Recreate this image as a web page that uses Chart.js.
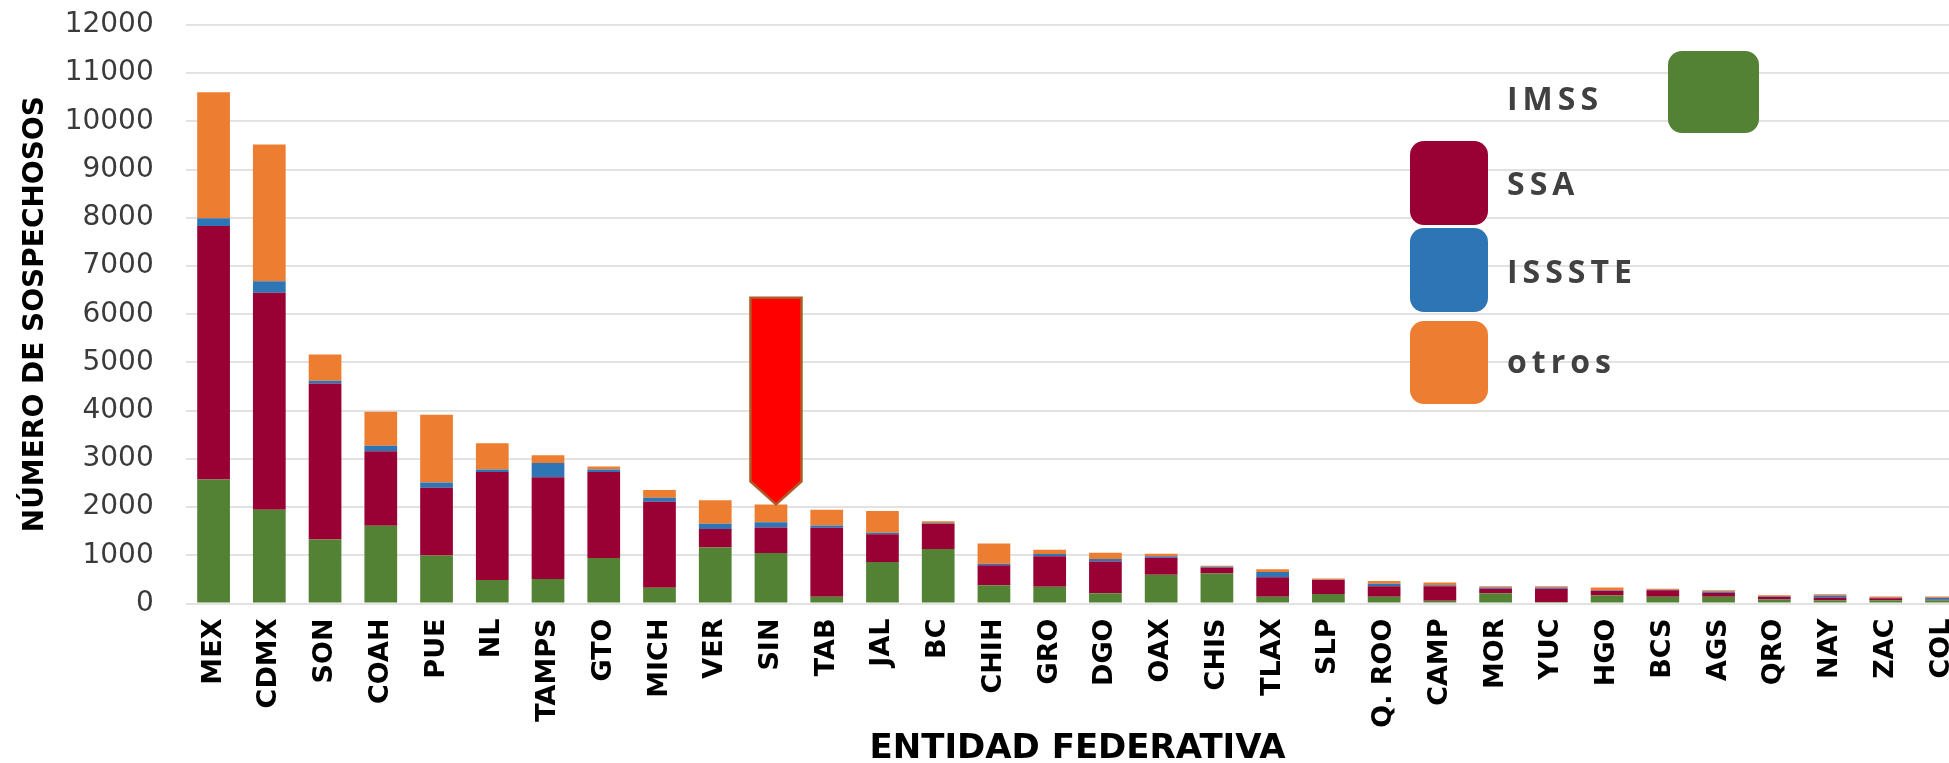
<!DOCTYPE html>
<html lang="es">
<head>
<meta charset="utf-8">
<title>Sospechosos por entidad federativa</title>
<script src="https://cdn.jsdelivr.net/npm/chart.js@4.4.0/dist/chart.umd.min.js"></script>
<style>
  html, body { margin: 0; padding: 0; background: #fff; }
  #wrap { width: 1949px; height: 763px; overflow: hidden; position: relative; }
  #chart { display: block; }
</style>
</head>
<body>
<div id="wrap">
  <canvas id="chart" width="2000" height="763"></canvas>
</div>
<script>
// Datos (casos sospechosos por institucion)
const estados = ['MEX', 'CDMX', 'SON', 'COAH', 'PUE', 'NL', 'TAMPS', 'GTO', 'MICH', 'VER', 'SIN', 'TAB',
  'JAL', 'BC', 'CHIH', 'GRO', 'DGO', 'OAX', 'CHIS', 'TLAX', 'SLP', 'Q. ROO', 'CAMP', 'MOR', 'YUC', 'HGO',
  'BCS', 'AGS', 'QRO', 'NAY', 'ZAC', 'COL'];

const imss = [2570, 1945, 1325, 1615, 995, 485, 510, 945, 325, 1160, 1050, 140,
  860, 1130, 380, 350, 215, 595, 620, 140, 195, 140, 55, 215, 30, 165,
  140, 140, 85, 70, 70, 65];
const ssa = [5260, 4500, 3240, 1545, 1405, 2245, 2110, 1785, 1785, 385, 525, 1430,
  575, 520, 415, 630, 655, 355, 120, 405, 290, 220, 305, 90, 275, 100,
  135, 85, 55, 55, 40, 15];
const issste = [160, 240, 55, 110, 110, 50, 295, 50, 85, 110, 110, 50,
  35, 15, 30, 45, 55, 30, 20, 110, 10, 50, 20, 25, 25, 10,
  10, 25, 10, 40, 10, 40];
const otros = [2615, 2835, 545, 705, 1405, 545, 160, 60, 160, 485, 370, 325,
  450, 40, 420, 90, 130, 50, 25, 55, 25, 55, 55, 30, 30, 55,
  20, 25, 20, 25, 25, 25];

const yTicks = [0, 1000, 2000, 3000, 4000, 5000, 6000, 7000, 8000, 9000, 10000, 11000, 12000];

// entidad resaltada con la flecha y hasta donde sube la flecha
const resaltado = 'SIN';
const flechaTope = 6340;

const colores = {
  imss: '#548235',
  ssa: '#990033',
  issste: '#2e75b6',
  otros: '#ed7d31'
};

// Plugin: flecha roja apuntando a la entidad resaltada
const flechaPlugin = {
  id: 'flecha',
  afterDatasetsDraw(chart) {
    const { ctx, scales: { x, y } } = chart;
    const i = estados.indexOf(resaltado);
    if (i < 0) return;
    const total = imss[i] + ssa[i] + issste[i] + otros[i];
    const cx = x.getPixelForValue(i) + 5;
    const tip = y.getPixelForValue(total);
    const top = y.getPixelForValue(flechaTope);
    const half = 25.5;
    const head = 23;
    ctx.save();
    ctx.beginPath();
    ctx.moveTo(cx - half, top);
    ctx.lineTo(cx + half, top);
    ctx.lineTo(cx + half, tip - head);
    ctx.lineTo(cx, tip);
    ctx.lineTo(cx - half, tip - head);
    ctx.closePath();
    ctx.fillStyle = '#ff0000';
    ctx.fill();
    ctx.lineWidth = 2.5;
    ctx.strokeStyle = '#b05a28';
    ctx.stroke();
    ctx.restore();
  }
};

// Plugin: leyenda con cuadros redondeados (como la original)
const leyendaPlugin = {
  id: 'leyendaCuadros',
  afterDraw(chart) {
    const { ctx } = chart;
    const items = [
      { box: [1668, 51, 91, 82], text: [1507, 110] },
      { box: [1410, 141, 78, 84], text: [1507, 195] },
      { box: [1410, 228, 78, 84], text: [1507, 283] },
      { box: [1410, 321, 78, 83], text: [1507, 373] }
    ];
    chart.data.datasets.forEach((ds, k) => {
      const it = items[k];
      if (!it) return;
      const [bx, by, bw, bh] = it.box;
      const r = 14;
      ctx.save();
      ctx.beginPath();
      ctx.moveTo(bx + r, by);
      ctx.arcTo(bx + bw, by, bx + bw, by + bh, r);
      ctx.arcTo(bx + bw, by + bh, bx, by + bh, r);
      ctx.arcTo(bx, by + bh, bx, by, r);
      ctx.arcTo(bx, by, bx + bw, by, r);
      ctx.closePath();
      ctx.fillStyle = ds.backgroundColor;
      ctx.fill();

      ctx.font = 'bold 32px "Open Sans", "DejaVu Sans", sans-serif';
      ctx.fillStyle = '#404040';
      ctx.textBaseline = 'alphabetic';
      ctx.textAlign = 'left';
      let tx = it.text[0];
      for (const ch of ds.label) {
        ctx.fillText(ch, tx, it.text[1]);
        tx += ctx.measureText(ch).width + 5;
      }
      ctx.restore();
    });
  }
};

document.addEventListener('DOMContentLoaded', () => {
  const canvas = document.getElementById('chart');
  if (!canvas) {
    console.error('chart canvas not found');
    return;
  }

  const barPct = 0.587;

  new Chart(canvas, {
    type: 'bar',
    data: {
      labels: estados,
      datasets: [
        { label: 'IMSS', data: imss, backgroundColor: colores.imss },
        { label: 'SSA', data: ssa, backgroundColor: colores.ssa },
        { label: 'ISSSTE', data: issste, backgroundColor: colores.issste },
        { label: 'otros', data: otros, backgroundColor: colores.otros }
      ].map(d => Object.assign(d, { barPercentage: barPct, categoryPercentage: 1, borderWidth: 0 }))
    },
    options: {
      responsive: false,
      animation: false,
      devicePixelRatio: 1,
      layout: { padding: { top: 25, right: 30.6, left: 0, bottom: 0 } },
      plugins: {
        legend: { display: false },
        tooltip: { enabled: false }
      },
      scales: {
        x: {
          stacked: true,
          grid: { display: false },
          border: { display: false },
          ticks: {
            autoSkip: false,
            minRotation: 90,
            maxRotation: 90,
            padding: 7,
            color: '#000',
            font: { family: '"DejaVu Sans", sans-serif', size: 27, weight: 'bold' }
          },
          title: {
            display: true,
            text: 'ENTIDAD FEDERATIVA',
            color: '#000',
            padding: { top: 0, bottom: 0 },
            font: { family: '"DejaVu Sans", sans-serif', size: 34, weight: 'bold', lineHeight: 0.8 }
          },
          afterFit(scale) { scale.height = 159.5; }
        },
        y: {
          stacked: true,
          min: 0,
          max: 12000,
          afterBuildTicks(scale) { scale.ticks = yTicks.map(v => ({ value: v })); },
          grid: { color: '#e2e2e2', lineWidth: 2, drawTicks: false },
          border: { display: false },
          ticks: {
            padding: 32,
            color: '#3a3a3a',
            font: { family: '"DejaVu Sans", sans-serif', size: 28 },
            callback: v => String(v)
          },
          title: {
            display: true,
            text: 'NÚMERO DE SOSPECHOSOS',
            color: '#000',
            padding: { top: 19, bottom: 0 },
            font: { family: '"DejaVu Sans", sans-serif', size: 28, weight: 'bold' }
          },
          afterFit(scale) {
            scale.width = 185.7;
            // sin margen extra arriba/abajo: el area de la grafica la fija layout.padding
            scale.paddingTop = 0;
            scale.paddingBottom = 0;
          }
        }
      }
    },
    plugins: [flechaPlugin, leyendaPlugin]
  });
});
</script>
</body>
</html>
